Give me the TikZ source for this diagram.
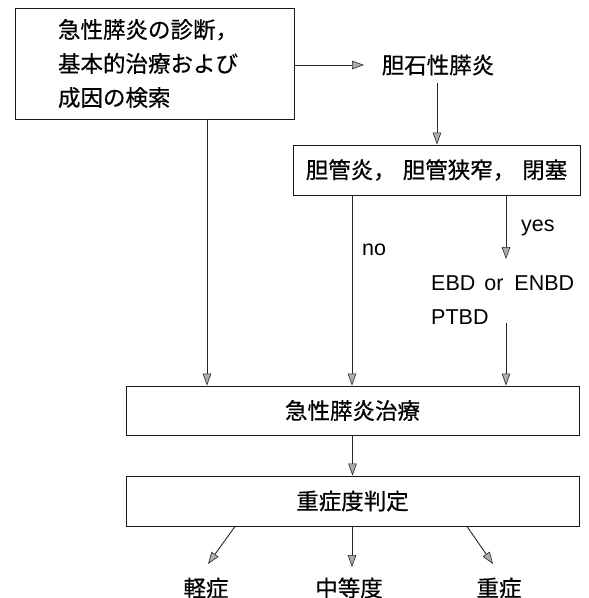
\documentclass[tikz,border=0pt]{standalone}
\usepackage{fontspec}
\setmainfont{Liberation Sans}
\newfontfamily\jp[FakeBold=0.5]{Noto Sans CJK JP}
\usetikzlibrary{arrows.meta}
\begin{document}
\begin{tikzpicture}[x=1pt,y=-1pt,
  box/.style={draw=black!90, line width=0.9pt},
  jt/.style={font=\jp\fontsize{22.5}{34}\selectfont, inner sep=0pt},
  lt/.style={font=\fontsize{21.5}{34}\selectfont, inner sep=0pt, anchor=west},
  arr/.style={draw=black!85, line width=0.9pt, -{Triangle[length=12pt,width=8.5pt,fill=gray!65,color=black!85,line width=0.6pt]}}]
\useasboundingbox[fill=white] (0,0) rectangle (589,598);
% x positions of vertical connectors
\coordinate (xL) at (207,0);
\coordinate (xN) at (352,0);
\coordinate (xY) at (506,0);
\coordinate (xA) at (235,0);
\coordinate (xC) at (352,0);
\coordinate (xB) at (467,0);
% nodes
\node[box, jt, text width=193pt, inner xsep=43pt, minimum height=111pt, align=left] (b1) at (154.5,63.5) {急性膵炎の診断，\\基本的治療および\\成因の検索};
\node[jt] (gs) at (438,65) {胆石性膵炎};
\node[box, jt, minimum width=287pt, minimum height=50pt] (b2) at (436.5,170) {胆管炎，\hspace{7pt}胆管狭窄，\hspace{7pt}閉塞};
\node[lt] (yes) at (521,228) {yes};
\node[lt] (no) at (362,250) {no};
\node[lt, align=left] (ebd) at (431,300) {EBD\hspace{3pt} or\hspace{5pt} ENBD\\PTBD};
\node[box, jt, minimum width=453pt, minimum height=49pt] (b3) at (352.5,410.5) {急性膵炎治療};
\node[box, jt, minimum width=453pt, minimum height=50pt] (b4) at (352.5,501) {重症度判定};
\node[jt] (m) at (206,588) {軽症};
\node[jt] (c) at (349,588) {中等度};
\node[jt] (s) at (499,588) {重症};
% arrow ends
\coordinate (y1) at (506,259);
\coordinate (y2) at (506,323);
\coordinate (t1) at (208,564);
\coordinate (t2) at (352,567);
\coordinate (t3) at (493,564);
\coordinate (g1) at (364,65);
\coordinate (g2) at (437,83);
% connectors
\draw[arr] (b1.east |- g1) -- (g1);
\draw[arr] (g2) -- (b2.north -| g2);
\draw[arr] (b1.south -| xL) -- (b3.north -| xL);
\draw[arr] (b2.south -| xN) -- (b3.north -| xN);
\draw[arr] (b2.south -| xY) -- (y1);
\draw[arr] (y2) -- (b3.north -| xY);
\draw[arr] (b3.south) -- (b4.north);
\draw[arr] (b4.south -| xA) -- (t1);
\draw[arr] (b4.south -| xC) -- (t2);
\draw[arr] (b4.south -| xB) -- (t3);
\end{tikzpicture}
\end{document}
